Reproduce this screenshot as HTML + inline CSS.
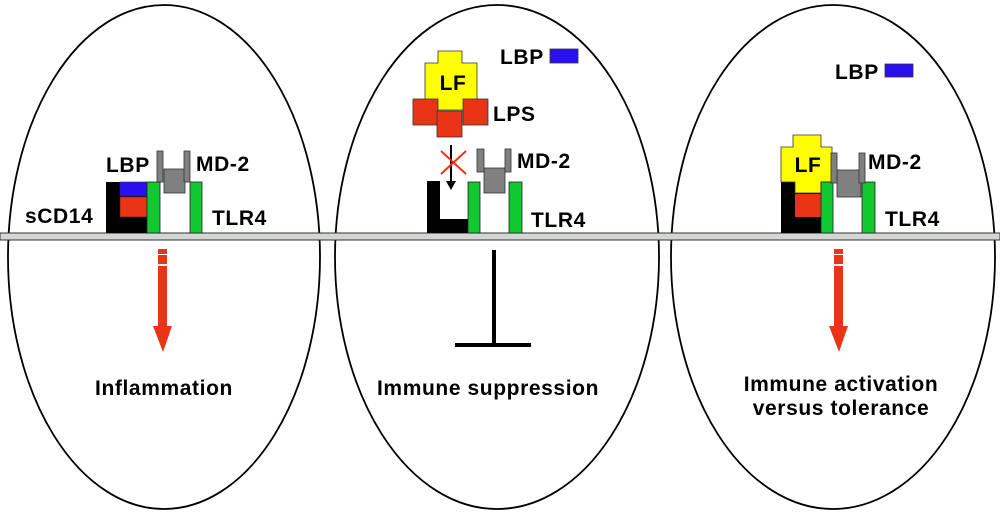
<!DOCTYPE html>
<html><head><meta charset="utf-8"><style>
html,body{margin:0;padding:0;background:#fff;}
svg{display:block;}
text{font-family:"Liberation Sans",Arial,sans-serif;font-weight:bold;fill:#000;letter-spacing:0.6px;}
</style></head><body>
<svg width="1000" height="513" viewBox="0 0 1000 513">
<ellipse cx="164" cy="257" rx="156" ry="252" fill="none" stroke="#000" stroke-width="1.8"/>
<ellipse cx="497" cy="257" rx="162" ry="252" fill="none" stroke="#000" stroke-width="1.8"/>
<ellipse cx="833" cy="257" rx="162" ry="252" fill="none" stroke="#000" stroke-width="1.8"/>
<rect x="0" y="233" width="1000" height="7" fill="#d4d6d4" stroke="#333" stroke-width="1"/>

<!-- Panel 1 -->
<rect x="106" y="182" width="41" height="51" fill="#000"/>
<rect x="120" y="182" width="27" height="14" fill="#2a10f0" stroke="#333" stroke-width="0.6"/>
<rect x="120" y="197" width="27" height="20" fill="#e83515" stroke="#333" stroke-width="0.6"/>
<rect x="147" y="182" width="13" height="51" fill="#10c830" stroke="#222" stroke-width="0.8"/>
<rect x="190" y="182" width="12" height="51" fill="#10c830" stroke="#222" stroke-width="0.8"/>
<rect x="164" y="169" width="21" height="24" fill="#808080" stroke="#333" stroke-width="0.8"/>
<rect x="157" y="151" width="6" height="31" fill="#808080" stroke="#333" stroke-width="0.8"/>
<rect x="184" y="151" width="6" height="31" fill="#808080" stroke="#333" stroke-width="0.8"/>
<text x="106" y="172" font-size="21">LBP</text>
<text x="196" y="171" font-size="21">MD-2</text>
<text x="25" y="223" font-size="21">sCD14</text>
<text x="212" y="225" font-size="21">TLR4</text>
<g fill="#e83515">
<rect x="158" y="249" width="9" height="5"/><rect x="158" y="255" width="9" height="9"/>
<rect x="158" y="266" width="9" height="61"/>
<polygon points="153,326 172,326 163,352"/>
</g>
<text x="164" y="395" font-size="21" text-anchor="middle">Inflammation</text>

<!-- Panel 2 -->
<text x="500" y="64" font-size="21">LBP</text>
<rect x="550" y="49" width="28" height="14" fill="#2a10f0" stroke="#333" stroke-width="0.8"/>
<polygon points="438,51 462,51 462,63 477,63 477,110 425,110 425,63 438,63" fill="#ffff00" stroke="#333" stroke-width="0.8"/>
<text x="453" y="90" font-size="21" text-anchor="middle">LF</text>
<rect x="413" y="99" width="25" height="26" fill="#e83515" stroke="#333" stroke-width="0.8"/>
<rect x="463" y="99" width="25" height="26" fill="#e83515" stroke="#333" stroke-width="0.8"/>
<rect x="437" y="111" width="25" height="26" fill="#e83515" stroke="#333" stroke-width="0.8"/>
<text x="493" y="121" font-size="21">LPS</text>
<line x1="451" y1="145" x2="451" y2="182" stroke="#000" stroke-width="2"/>
<polygon points="446,181 456,181 451,190" fill="#000"/>
<line x1="441" y1="151" x2="466" y2="174" stroke="#e83515" stroke-width="2"/>
<line x1="466" y1="151" x2="441" y2="174" stroke="#e83515" stroke-width="2"/>
<polygon points="427,181 440,181 440,219 468,219 468,233 427,233" fill="#000"/>
<rect x="468" y="182" width="12" height="51" fill="#10c830" stroke="#222" stroke-width="0.8"/>
<rect x="509" y="182" width="13" height="51" fill="#10c830" stroke="#222" stroke-width="0.8"/>
<rect x="484" y="168" width="21" height="25" fill="#808080" stroke="#333" stroke-width="0.8"/>
<rect x="477" y="149" width="7" height="23" fill="#808080" stroke="#333" stroke-width="0.8"/>
<rect x="505" y="149" width="6" height="23" fill="#808080" stroke="#333" stroke-width="0.8"/>
<text x="517" y="168" font-size="21">MD-2</text>
<text x="531" y="227" font-size="21">TLR4</text>
<line x1="494" y1="250" x2="494" y2="345" stroke="#000" stroke-width="4"/>
<line x1="455" y1="345" x2="531" y2="345" stroke="#000" stroke-width="4"/>
<text x="488" y="395" font-size="21" text-anchor="middle">Immune suppression</text>

<!-- Panel 3 -->
<text x="835" y="79" font-size="21">LBP</text>
<rect x="885" y="64" width="28" height="13" fill="#2a10f0" stroke="#333" stroke-width="0.8"/>
<rect x="781" y="182" width="40" height="51" fill="#000"/>
<polygon points="793,135 821,135 821,147 832,147 832,182 821,182 821,193 795,193 795,182 781,182 781,147 793,147" fill="#ffff00" stroke="#333" stroke-width="0.8"/>
<text x="808" y="172" font-size="21" text-anchor="middle">LF</text>
<rect x="795" y="194" width="26" height="23" fill="#e83515"/>
<rect x="821" y="182" width="12" height="51" fill="#10c830" stroke="#222" stroke-width="0.8"/>
<rect x="862" y="182" width="13" height="51" fill="#10c830" stroke="#222" stroke-width="0.8"/>
<rect x="837" y="170" width="24" height="27" fill="#808080" stroke="#333" stroke-width="0.8"/>
<rect x="831" y="153" width="6" height="30" fill="#808080" stroke="#333" stroke-width="0.8"/>
<rect x="859" y="153" width="6" height="30" fill="#808080" stroke="#333" stroke-width="0.8"/>
<text x="868" y="169" font-size="21">MD-2</text>
<text x="885" y="226" font-size="21">TLR4</text>
<g fill="#e83515">
<rect x="834" y="249" width="9" height="5"/><rect x="834" y="255" width="9" height="9"/>
<rect x="834" y="266" width="9" height="61"/>
<polygon points="829,326 848,326 839,352"/>
</g>
<text x="841" y="391" font-size="21" text-anchor="middle">Immune activation</text>
<text x="841" y="415" font-size="21" text-anchor="middle">versus tolerance</text>
</svg>
</body></html>
